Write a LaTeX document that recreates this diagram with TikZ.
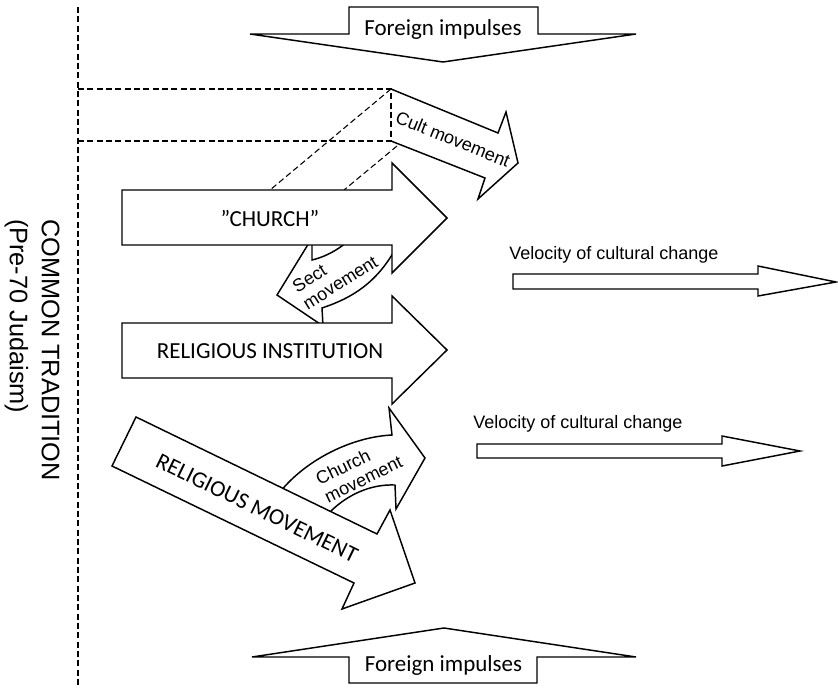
\documentclass[tikz,border=0pt]{standalone}
\usepackage{fontspec}
\setmainfont{Carlito}
\newfontfamily\arial{Liberation Sans}
\begin{document}
\begin{tikzpicture}[x=0.75pt,y=-0.75pt,
  shp/.style={draw=black, fill=white, line width=1.1pt, line join=miter},
  dsh/.style={draw=black, line width=0.8pt, dash pattern=on 4.5pt off 2.5pt},
  cal/.style={font=\fontsize{17.25}{20}\selectfont, inner sep=0pt},
  ari/.style={font=\arial\fontsize{13.5}{16}\selectfont, inner sep=0pt},
  sml/.style={font=\arial\fontsize{13.5}{15}\selectfont, align=left, inner sep=0pt},
  big/.style={font=\arial\fontsize{19}{24}\selectfont, align=left, inner sep=0pt}]
\useasboundingbox (0,0) rectangle (838,688);
\fill[white] (0,0) rectangle (838,688);

% common tradition boundary
\draw[dsh] (78,7) -- (78,688);

% foreign impulses arrows
\draw[shp] (349,7) -- (538,7) -- (538,34) -- (636,34) -- (443,62) -- (250,34) -- (349,34) -- cycle;
\draw[shp] (444,628) -- (636,657) -- (537,657) -- (537,683) -- (349,683) -- (349,657) -- (252,657) -- cycle;

% dashed diagonals (behind CHURCH)
\draw[dsh] (391,89) -- (270,190);
\draw[dsh] (397,146) -- (344,190);

% cult movement arrow
\fill[white] (391,89) -- (498,133) -- (506,112) -- (518,163) -- (478,199) -- (485,178) -- (391,141) -- cycle;
\draw[line width=1.1pt, line join=miter] (391,141) -- (485,178) -- (478,199) -- (518,163) -- (506,112) -- (498,133) -- (391,89);
\draw[dsh] (78,89) -- (391,89) -- (391,141) -- (78,141);

% sect movement arrow
\draw[shp] (370,215) -- (400,240) .. controls (380,282) and (352,298) .. (322,308) -- (323,326) -- (277,295) -- (312,238) -- (312,260) .. controls (333,255) and (355,240) .. (370,215) -- cycle;

% CHURCH arrow
\draw[shp] (122,190) -- (392,190) -- (392,163) -- (447,218) -- (392,273) -- (392,245) -- (122,245) -- cycle;

% RELIGIOUS INSTITUTION arrow
\draw[shp] (122,323) -- (392,323) -- (392,296) -- (447,350) -- (392,404) -- (392,378) -- (122,378) -- cycle;

% church movement arrow
\draw[shp] (274,500) .. controls (300,462) and (350,437) .. (392,435) -- (389,408) -- (425,458) -- (396,509) -- (395,485) .. controls (370,484) and (348,495) .. (332,510) -- (322,522) -- cycle;

% RELIGIOUS MOVEMENT arrow
\draw[shp] (136,417) -- (377,534) -- (390,510) -- (415,583) -- (342,609) -- (354,583) -- (112,466) -- cycle;

% velocity arrows
\draw[shp] (513,274) -- (758,274) -- (758,266) -- (836,282) -- (758,296) -- (758,289) -- (513,289) -- cycle;
\draw[shp] (477,444) -- (722,444) -- (722,436) -- (800,451) -- (722,466) -- (722,458) -- (477,458) -- cycle;

% texts
\node[cal, anchor=base] (fitop) at (443,36) {Foreign impulses};
\node[cal, anchor=base] (fibot) at (443.5,671) {Foreign impulses};
\node[cal, anchor=base] (church) at (270,226) {”CHURCH”};
\node[cal, anchor=base] (inst) at (270,358) {RELIGIOUS INSTITUTION};
\node[cal, rotate=-26] (move) at (257,508) {RELIGIOUS MOVEMENT};
\node[sml, rotate=-22] (cult) at (453,139) {Cult movement};
\node[sml, rotate=32] (sect) at (335,274) {Sect\\movement};
\node[sml, rotate=26] (chm) at (359,470) {Church\\movement};
\node[ari, anchor=base west] (vel1) at (509,259) {Velocity of cultural change};
\node[ari, anchor=base west] (vel2) at (473,428) {Velocity of cultural change};
\node[big, rotate=-90] (common) at (32,350) {COMMON TRADITION\\(Pre-70 Judaism)};
\end{tikzpicture}
\end{document}
